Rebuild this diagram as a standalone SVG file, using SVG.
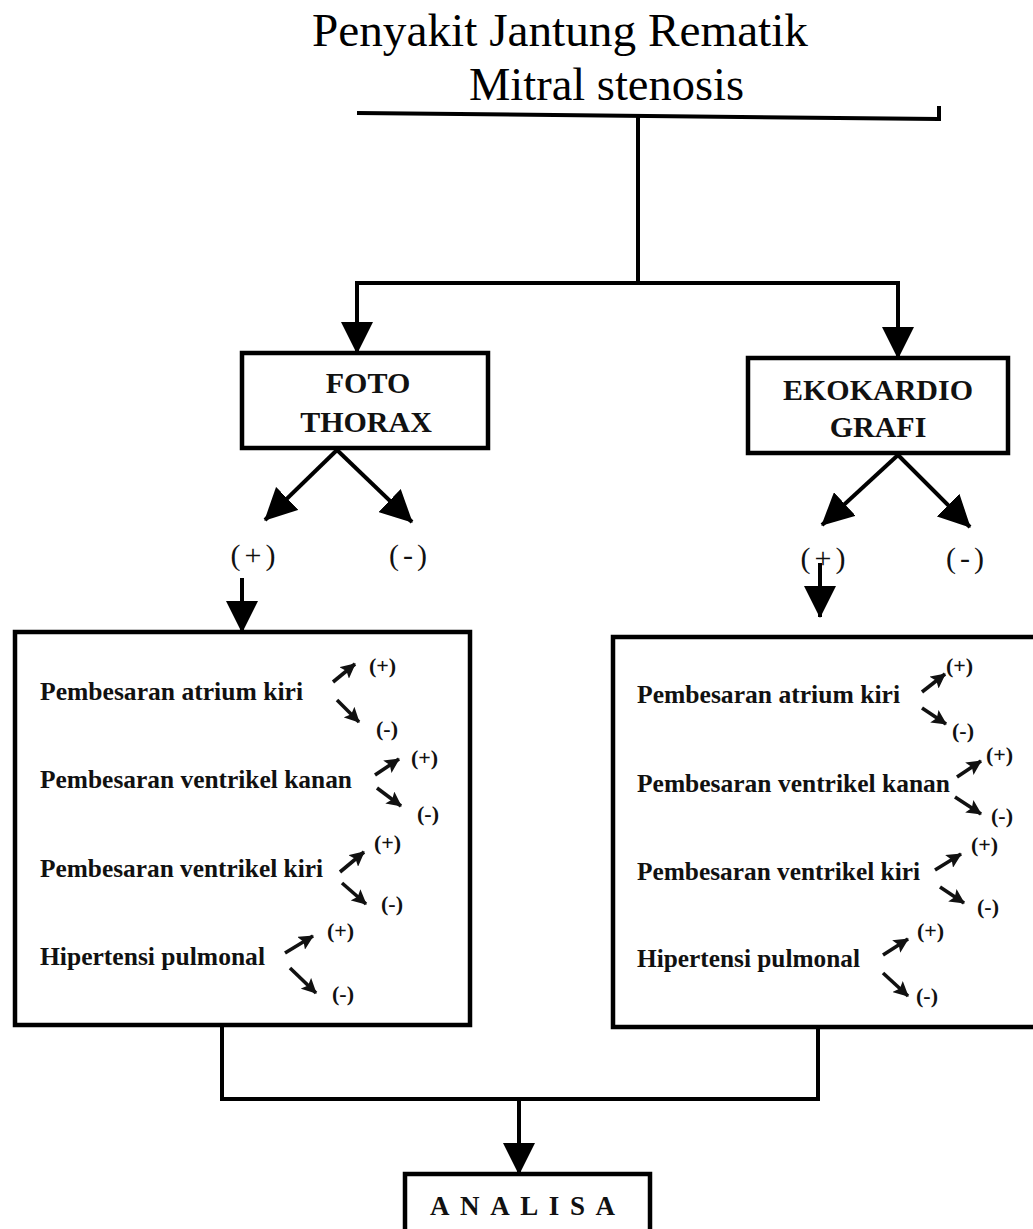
<svg xmlns="http://www.w3.org/2000/svg" width="1033" height="1229" viewBox="0 0 1033 1229">
<style>
.title{font-family:"Liberation Serif","Times New Roman",serif;font-size:46px;fill:#000}
.bx{fill:#fff;stroke:#000;stroke-width:4.5}
.hd{font-family:"Liberation Serif","Times New Roman",serif;font-weight:bold;font-size:30px;fill:#111;text-anchor:middle}
.it{font-family:"Liberation Serif","Times New Roman",serif;font-weight:bold;font-size:25px;fill:#111}
.pm{font-family:"Liberation Serif","Times New Roman",serif;font-size:30px;fill:#111;text-anchor:middle;letter-spacing:4px}
.sm{font-family:"Liberation Serif","Times New Roman",serif;font-weight:bold;font-size:22px;fill:#111}
.ln{fill:none;stroke:#000;stroke-width:4}
.ar{fill:none;stroke:#000;stroke-width:4;marker-end:url(#big)}
.sa{fill:none;stroke:#111;stroke-width:3.6;marker-end:url(#small)}
</style>
<defs>
<marker id="big" markerUnits="userSpaceOnUse" markerWidth="32" markerHeight="32" refX="31" refY="16" orient="auto">
<path d="M0,0 L32,16 L0,32 z" fill="#000"/>
</marker>
<marker id="small" markerUnits="userSpaceOnUse" markerWidth="15" markerHeight="15" refX="14" refY="7.5" orient="auto">
<path d="M0,0 L15,7.5 L0,15 L3,7.5 z" fill="#111"/>
</marker>
</defs>
<rect width="1033" height="1229" fill="#fff"/>

<g id="title">
<text class="title" x="312" y="46" textLength="496" lengthAdjust="spacingAndGlyphs">Penyakit Jantung Rematik</text>
<text class="title" x="469" y="100" textLength="275" lengthAdjust="spacingAndGlyphs">Mitral stenosis</text>
</g>

<g id="connectors">
<path class="ln" d="M357,113 L939,119 M939,106 L939,121"/>
<path class="ln" d="M638,115 L638,283"/>
<path class="ln" d="M357,283 L898,283"/>
<path class="ar" d="M357,281 L357,353"/>
<path class="ar" d="M898,281 L898,358"/>
<path class="ar" d="M337,450 L265,520"/>
<path class="ar" d="M337,450 L412,522"/>
<path class="ar" d="M898,455 L822,525"/>
<path class="ar" d="M898,455 L970,527"/>
<path class="ar" d="M242,578 L242,632"/>
<path class="ar" d="M820,563 L820,617"/>
<path class="ln" d="M222,1025 L222,1099 L818,1099 L818,1027"/>
<path class="ar" d="M519,1099 L519,1174"/>
</g>

<g id="foto-thorax">
<rect class="bx" x="242" y="353" width="246" height="95"/>
<text class="hd" x="368" y="393">FOTO</text>
<text class="hd" x="366" y="432">THORAX</text>
</g>

<g id="ekokardiografi">
<rect class="bx" x="748" y="358" width="260" height="95"/>
<text class="hd" x="878" y="400">EKOKARDIO</text>
<text class="hd" x="878" y="437">GRAFI</text>
</g>

<g id="foto-results">
<text class="pm" x="255" y="565">(+)</text>
<text class="pm" x="410" y="565">(-)</text>
</g>

<g id="eko-results">
<text class="pm" x="825" y="568">(+)</text>
<text class="pm" x="967" y="568">(-)</text>
</g>

<g id="foto-findings">
<rect class="bx" x="15" y="632" width="455" height="393"/>
<text class="it" x="40" y="700" textLength="263" lengthAdjust="spacingAndGlyphs">Pembesaran atrium kiri</text>
<text class="it" x="40" y="788" textLength="312" lengthAdjust="spacingAndGlyphs">Pembesaran ventrikel kanan</text>
<text class="it" x="40" y="877" textLength="283" lengthAdjust="spacingAndGlyphs">Pembesaran ventrikel kiri</text>
<text class="it" x="40" y="965" textLength="225" lengthAdjust="spacingAndGlyphs">Hipertensi pulmonal</text>
<path class="sa" d="M333,682 L355,664"/>
<path class="sa" d="M337,700 L359,722"/>
<path class="sa" d="M375,775 L399,759"/>
<path class="sa" d="M377,788 L401,806"/>
<path class="sa" d="M340,872 L364,852"/>
<path class="sa" d="M342,883 L366,904"/>
<path class="sa" d="M285,953 L313,936"/>
<path class="sa" d="M290,968 L316,993"/>
<text class="sm" x="369" y="673">(+)</text>
<text class="sm" x="376" y="736">(-)</text>
<text class="sm" x="411" y="765">(+)</text>
<text class="sm" x="417" y="821">(-)</text>
<text class="sm" x="374" y="850">(+)</text>
<text class="sm" x="381" y="911">(-)</text>
<text class="sm" x="327" y="938">(+)</text>
<text class="sm" x="332" y="1001">(-)</text>
</g>

<g id="eko-findings">
<rect class="bx" x="613" y="637" width="440" height="390"/>
<text class="it" x="637" y="703" textLength="263" lengthAdjust="spacingAndGlyphs">Pembesaran atrium kiri</text>
<text class="it" x="637" y="792" textLength="313" lengthAdjust="spacingAndGlyphs">Pembesaran ventrikel kanan</text>
<text class="it" x="637" y="880" textLength="283" lengthAdjust="spacingAndGlyphs">Pembesaran ventrikel kiri</text>
<text class="it" x="637" y="967" textLength="223" lengthAdjust="spacingAndGlyphs">Hipertensi pulmonal</text>
<path class="sa" d="M922,692 L945,674"/>
<path class="sa" d="M922,708 L946,724"/>
<path class="sa" d="M957,777 L981,761"/>
<path class="sa" d="M955,797 L981,814"/>
<path class="sa" d="M935,870 L961,854"/>
<path class="sa" d="M940,887 L964,903"/>
<path class="sa" d="M883,955 L908,939"/>
<path class="sa" d="M883,973 L908,996"/>
<text class="sm" x="946" y="673">(+)</text>
<text class="sm" x="952" y="738">(-)</text>
<text class="sm" x="986" y="762">(+)</text>
<text class="sm" x="991" y="823">(-)</text>
<text class="sm" x="971" y="852">(+)</text>
<text class="sm" x="977" y="914">(-)</text>
<text class="sm" x="917" y="938">(+)</text>
<text class="sm" x="916" y="1003">(-)</text>
</g>

<g id="analisa">
<rect class="bx" x="405" y="1174" width="245" height="80"/>
<text class="hd" x="430" y="1215" style="text-anchor:start;font-size:27px" textLength="185" lengthAdjust="spacing">ANALISA</text>
</g>
</svg>
